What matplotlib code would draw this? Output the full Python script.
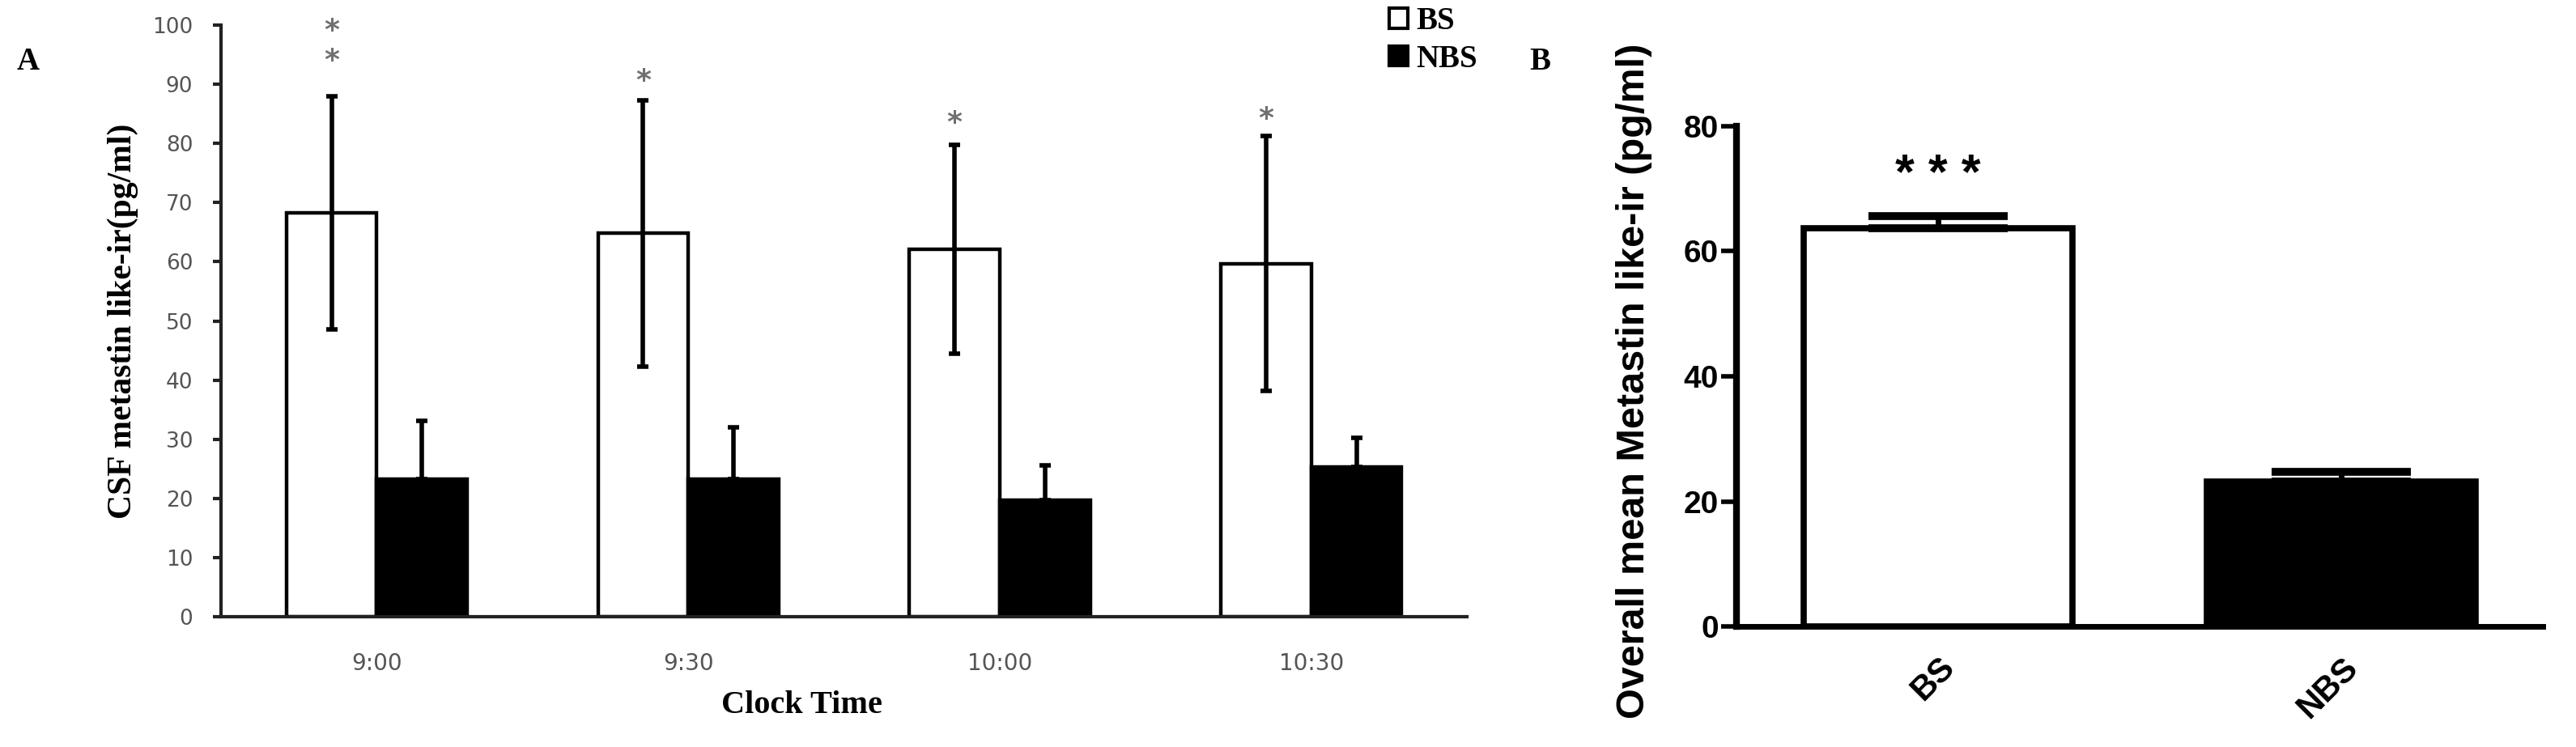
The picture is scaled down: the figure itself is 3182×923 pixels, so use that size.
import matplotlib.pyplot as plt
import numpy as np
from matplotlib.patches import Patch

# panel A data
times = ["9:00", "9:30", "10:00", "10:30"]
bs_mean = [68.2, 64.8, 62.1, 59.7]
bs_err = [19.7, 22.5, 17.7, 21.5]
nbs_mean = [23.3, 23.3, 19.7, 25.3]
nbs_err = [9.8, 8.7, 5.9, 5.0]
star_y = [[94, 99], [90.5], [83.4], [84.1]]

# panel B data
groups = ["BS", "NBS"]
overall_mean = [63.7, 23.2]
overall_err = [1.9, 1.5]
overall_star = 72.0

serif = "Liberation Serif"
sans = "Liberation Sans"

fig = plt.figure(figsize=(31.82, 9.23), dpi=100)

# ---------------- panel A ----------------
ax = fig.add_axes([0.0858, 0.1744, 0.4837, 0.7920])
x = np.arange(len(times))
w = 0.29
ax.bar(x - w, bs_mean, w, align="edge", color="white", edgecolor="black", linewidth=3.2, label="BS")
ax.bar(x, nbs_mean, w, align="edge", color="black", edgecolor="black", linewidth=3.2, label="NBS")
ax.errorbar(x - w / 2, bs_mean, yerr=bs_err, fmt="none", ecolor="black",
            elinewidth=4, capsize=5, capthick=4, zorder=5)
ax.errorbar(x + w / 2, nbs_mean, yerr=[np.zeros(len(nbs_err)), nbs_err], fmt="none",
            ecolor="black", elinewidth=4, capsize=5, capthick=4, zorder=5)
for i, ys in enumerate(star_y):
    for yy in ys:
        ax.text(x[i] - w / 2, yy, "*", ha="center", va="center", fontsize=26,
                color="#707070", fontweight="bold")

ax.set_xlim(-0.5, 3.5)
ax.set_ylim(0, 100)
ax.set_yticks(np.arange(0, 101, 10))
ax.set_xticks(x)
ax.set_xticklabels(times)
for s in ["top", "right"]:
    ax.spines[s].set_visible(False)
for s in ["left", "bottom"]:
    ax.spines[s].set_linewidth(3)
    ax.spines[s].set_color("#222222")
ax.tick_params(axis="y", direction="out", length=7, width=3, pad=18,
               labelsize=19, labelcolor="#555555", color="#222222")
ax.tick_params(axis="x", length=0, pad=32, labelsize=20, labelcolor="#555555")
ax.set_ylabel("CSF metastin like-ir(pg/ml)", family=serif, fontweight="bold", fontsize=30)
ax.yaxis.set_label_coords(-0.066, 0.5)
ax.set_xlabel("Clock Time", family=serif, fontweight="bold", fontsize=29)
ax.xaxis.set_label_coords(0.466, -0.125)

handles = [Patch(facecolor="white", edgecolor="black", linewidth=3, label="BS"),
           Patch(facecolor="black", edgecolor="black", linewidth=3, label="NBS")]
fig.legend(handles=handles, loc="upper left", bbox_to_anchor=(1716 / 3182, 1 - 8 / 923),
           frameon=False, handlelength=0.6, handleheight=0.6, handletextpad=0.25,
           labelspacing=0.25, borderpad=0, borderaxespad=0,
           prop={"family": serif, "weight": "bold", "size": 28})

fig.text(35 / 3182, 1 - 77 / 923, "A", family=serif, fontweight="bold", fontsize=28,
         ha="center", va="center")
fig.text(1902 / 3182, 1 - 77 / 923, "B", family=serif, fontweight="bold", fontsize=28,
         ha="center", va="center")

# ---------------- panel B ----------------
bx = fig.add_axes([0.6741, 0.1614, 0.3130, 0.6696])
xb = np.arange(len(groups))
bx.bar(xb, overall_mean, 0.667, color=["white", "black"], edgecolor="black", linewidth=5.5)
bx.errorbar(xb, overall_mean, yerr=[np.zeros(2), overall_err], fmt="none", ecolor="black",
            elinewidth=5, capsize=62, capthick=7, zorder=5)
bx.text(xb[0], overall_star, "* * *", ha="center", va="center", family=sans,
        fontweight="bold", fontsize=44)
bx.set_xlim(-0.5, 1.5)
bx.set_ylim(0, 80)
bx.set_yticks(np.arange(0, 81, 20))
bx.set_xticks(xb)
bx.set_xticklabels(groups, rotation=45, ha="right", rotation_mode="anchor")
for s in ["top", "right"]:
    bx.spines[s].set_visible(False)
bx.spines["left"].set_linewidth(6)
bx.spines["bottom"].set_linewidth(5)
bx.tick_params(axis="y", direction="out", length=14, width=4, pad=2, labelsize=28)
bx.tick_params(axis="x", length=0, pad=22, labelsize=30)
for lab in bx.get_xticklabels() + bx.get_yticklabels():
    lab.set_family(sans)
    lab.set_fontweight("bold")
bx.set_ylabel("Overall mean Metastin like-ir (pg/ml)", family=sans, fontweight="bold",
              fontsize=35)
bx.yaxis.set_label_coords(-0.104, 0.49)

fig.savefig("out.png", dpi=100)
